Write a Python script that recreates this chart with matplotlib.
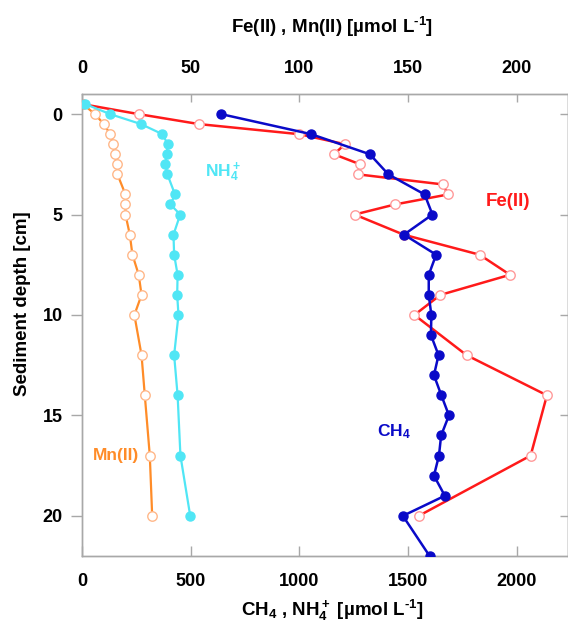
import matplotlib
matplotlib.use("Agg")
import matplotlib.pyplot as plt

plt.rcParams['font.family'] = ['Liberation Sans', 'DejaVu Sans']
plt.rcParams['font.weight'] = 'bold'
plt.rcParams['mathtext.fontset'] = 'custom'
plt.rcParams['mathtext.rm'] = 'Liberation Sans:bold'
plt.rcParams['mathtext.it'] = 'Liberation Sans:bold'
plt.rcParams['mathtext.bf'] = 'Liberation Sans:bold'
plt.rcParams['mathtext.default'] = 'regular'

# ---- data ----
ch4_depth = [0, 1, 2, 3, 4, 5, 6, 7, 8, 9, 10, 11, 12, 13, 14, 15, 16, 17, 18, 19, 20, 22]
ch4_val = [640, 1055, 1325, 1410, 1577, 1613, 1482, 1630, 1596, 1596, 1608, 1606, 1641,
           1620, 1654, 1689, 1653, 1643, 1620, 1670, 1477, 1600]

nh4_depth = [-0.5, 0, 0.5, 1, 1.5, 2, 2.5, 3, 4, 4.5, 5, 6, 7, 8, 9, 10, 12, 14, 17, 20]
nh4_val = [15, 129, 272, 370, 395, 389, 384, 393, 428, 407, 452, 421, 424, 440, 438, 444,
           424, 440, 453, 498]

fe_depth = [-0.5, 0, 0.5, 1, 1.5, 2, 2.5, 3, 3.5, 4, 4.5, 5, 6, 7, 8, 9, 10, 12, 14, 17, 20]
fe_val = [0, 26, 54, 100, 121, 116, 128, 127, 166, 168.5, 144, 125.5, 148, 183, 197, 165,
          153, 177, 214, 206.5, 155]

mn_depth = [-0.5, 0, 0.5, 1, 1.5, 2, 2.5, 3, 4, 4.5, 5, 6, 7, 8, 9, 10, 12, 14, 17, 20]
mn_val = [0.3, 6, 10, 13, 14.4, 15.2, 16.1, 16.3, 20, 20, 20, 22, 23.2, 26.1, 27.4, 24.1,
          27.4, 28.9, 31.2, 32.3]

bottom_ticks = [0, 500, 1000, 1500, 2000]
top_ticks = [0, 50, 100, 150, 200]
depth_ticks = [0, 5, 10, 15, 20]

# ---- colours ----
c_blue = '#0a0ac8'
c_cyan = '#50e6f5'
c_red = '#ff1a1a'
c_orange = '#ff8c28'
c_spine = '#a8a8a8'

fig = plt.figure(figsize=(5.68, 6.33), dpi=100)
ax = fig.add_axes([0.1444, 0.1216, 0.8556, 0.7299])
ax.set_xlim(0, 2237)
ax.set_ylim(22, -1)

ax.plot(nh4_val, nh4_depth, '-o', color=c_cyan, lw=1.6, ms=6.5, mfc=c_cyan, mec=c_cyan, zorder=3)
ax.plot(ch4_val, ch4_depth, '-o', color=c_blue, lw=1.8, ms=6.5, mfc=c_blue, mec=c_blue, zorder=5)

axt = ax.twiny()
axt.set_xlim(0, 223.7)
axt.plot(mn_val, mn_depth, '-o', color=c_orange, lw=1.6, ms=6.8, mfc='white', mec='#ffb88a', mew=1.0, zorder=3)
axt.plot(fe_val, fe_depth, '-o', color=c_red, lw=1.8, ms=6.8, mfc='white', mec='#ff9a9a', mew=1.0, zorder=3)

# put blue on top of the twin axes
ax.set_zorder(axt.get_zorder() + 1)
ax.patch.set_visible(False)

for a in (ax, axt):
    for s in a.spines.values():
        s.set_color(c_spine)
        s.set_linewidth(1.0)

ax.set_xticks(bottom_ticks)
ax.set_yticks(depth_ticks)
axt.set_xticks(top_ticks)
ax.tick_params(axis='x', direction='in', length=7, width=1, color=c_spine, labelsize=13, pad=12)
ax.tick_params(axis='y', direction='out', length=8, width=1, color=c_spine, labelsize=13, pad=6)
axt.tick_params(axis='x', direction='in', length=6, width=1, color=c_spine, labelsize=13, pad=12)
for lab in ax.get_xticklabels() + ax.get_yticklabels() + axt.get_xticklabels():
    lab.set_fontweight('bold')

sec = ax.secondary_yaxis('right')
sec.set_yticks(depth_ticks)
sec.tick_params(direction='in', length=6, width=1, color=c_spine, labelright=False)
sec.spines['right'].set_color(c_spine)

ax.set_xlabel('CH$_4$ , NH$_4^+$ [µmol L$^{\u2010 1}$]', fontsize=13.5, fontweight='bold',
              labelpad=6, x=0.514)
axt.set_xlabel('Fe(II) , Mn(II) [µmol L$^{\u2010 1}$]', fontsize=13.5, fontweight='bold',
               labelpad=20, x=0.515)
ax.set_ylabel('Sediment depth [cm]', fontsize=13.5, fontweight='bold', labelpad=8, y=0.5465)

ax.text(650, 2.9, r'NH$_4^+$', color=c_cyan, fontsize=12.5, fontweight='bold', ha='center', va='center')
ax.text(1960, 4.35, 'Fe(II)', color=c_red, fontsize=13.5, fontweight='bold', ha='center', va='center')
ax.text(1435, 15.8, r'CH$_4$', color=c_blue, fontsize=12.5, fontweight='bold', ha='center', va='center')
ax.text(157, 17.0, 'Mn(II)', color=c_orange, fontsize=12.5, fontweight='bold', ha='center', va='center')

fig.savefig('out.png', dpi=100)
